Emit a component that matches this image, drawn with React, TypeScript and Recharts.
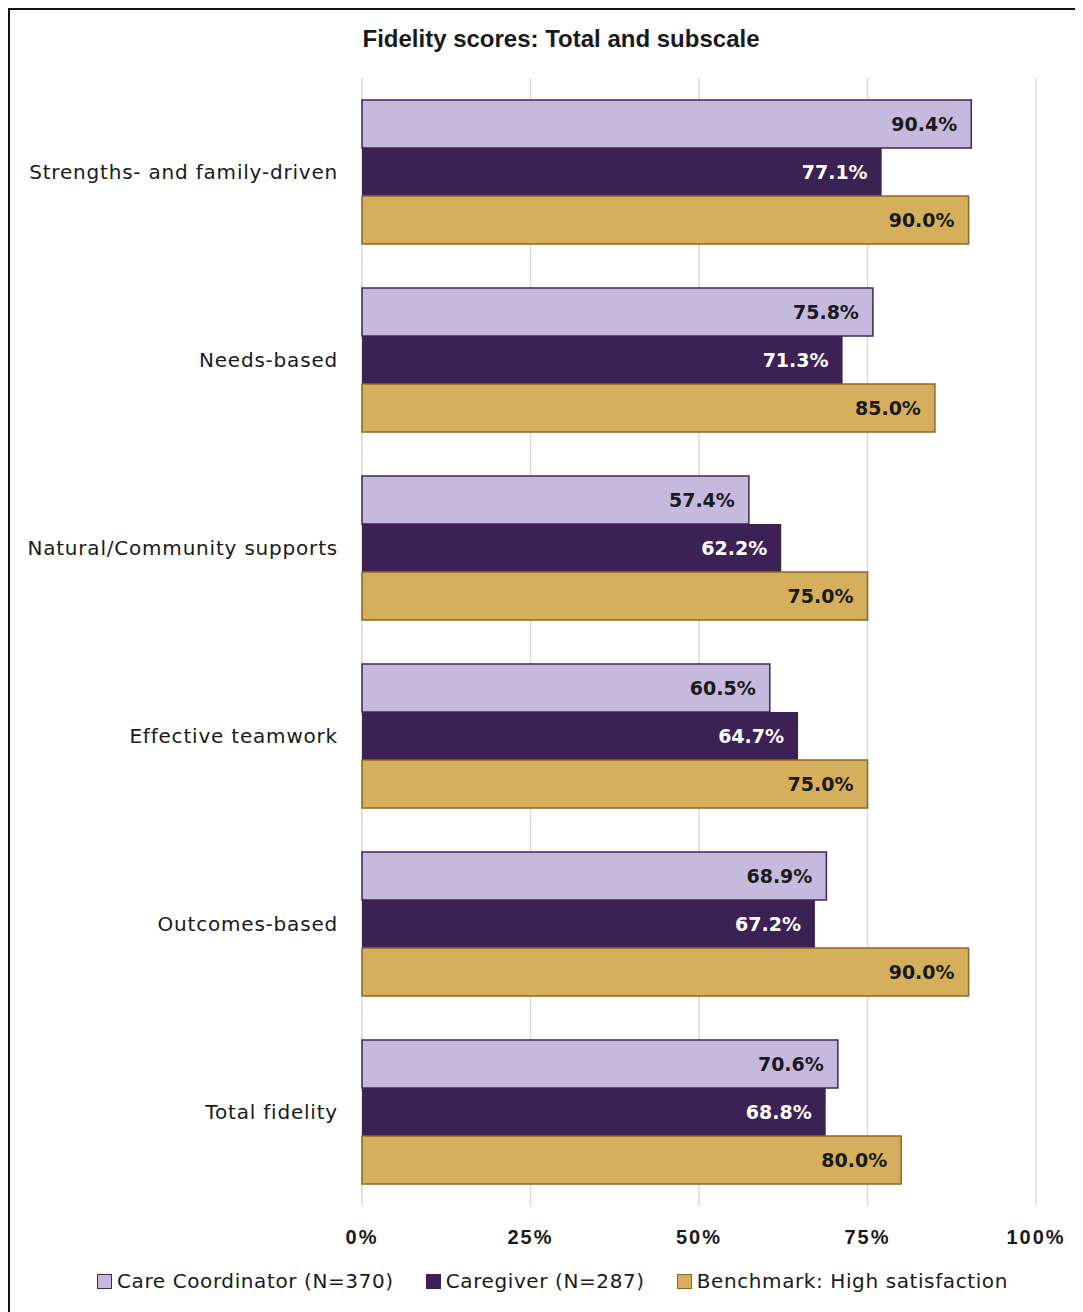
import React from 'react'
import {
    BarChart,
    Bar,
    XAxis,
    YAxis,
    CartesianGrid,
    LabelList
} from 'recharts'

const categories = [
    "Strengths- and family-driven",
    "Needs-based",
    "Natural/Community supports",
    "Effective teamwork",
    "Outcomes-based",
    "Total fidelity"
]

const careCoordinator = [90.4, 75.8, 57.4, 60.5, 68.9, 70.6]
const caregiver = [77.1, 71.3, 62.2, 64.7, 67.2, 68.8]
const benchmark = [90.0, 85.0, 75.0, 75.0, 90.0, 80.0]

const xTicks = [0, 25, 50, 75, 100]

const seriesNames = [
    "Care Coordinator (N=370)",
    "Caregiver (N=287)",
    "Benchmark: High satisfaction"
]

const colors = {
    coord: "#c5b9de",
    coordStroke: "#3f2659",
    giver: "#3c2154",
    bench: "#d5af5b",
    benchStroke: "#8a6a22"
}

const labelFont = "'DejaVu Sans', Verdana, sans-serif"
const narrowFont = "'Liberation Sans', Arial, sans-serif"

const data = categories.map((name, i) => ({
    name,
    coord: careCoordinator[i],
    giver: caregiver[i],
    bench: benchmark[i]
}))

const pct = (v: any) => Number(v).toFixed(1) + '%'

function LegendBox() {
    const items = [
        { label: seriesNames[0], fill: colors.coord, stroke: colors.coordStroke },
        { label: seriesNames[1], fill: colors.giver, stroke: colors.giver },
        { label: seriesNames[2], fill: colors.bench, stroke: colors.benchStroke }
    ]
    return (
        <div style={{
            position: 'absolute', top: 1259, left: 87, display: 'flex', gap: 32,
            fontFamily: labelFont, fontSize: 20, letterSpacing: 0.6, color: '#1a1a1a',
            whiteSpace: 'nowrap', lineHeight: '24px'
        }}>
            {items.map(it => (
                <div key={it.label} style={{ display: 'flex', alignItems: 'center' }}>
                    <span style={{
                        display: 'inline-block', width: 13, height: 13, background: it.fill,
                        border: `1.5px solid ${it.stroke}`, marginRight: 5
                    }} />
                    <span>{it.label}</span>
                </div>
            ))}
        </div>
    )
}

export default function App() {
    return (
        <div style={{
            position: 'relative', width: 1075, height: 1304, boxSizing: 'border-box',
            borderLeft: '2px solid #111', borderTop: '2px solid #111', background: '#fff'
        }}>
            <div style={{
                position: 'absolute', top: 15, left: 0, width: 1102, textAlign: 'center',
                fontFamily: narrowFont, fontWeight: 'bold', fontSize: 24, color: '#1a1a1a'
            }}>
                Fidelity scores: Total and subscale
            </div>
            <BarChart
                width={1073}
                height={1242}
                data={data}
                layout="vertical"
                margin={{ top: 68, right: 47, bottom: 0, left: 0 }}
                barCategoryGap={22}
                barGap={0}
            >
                <CartesianGrid horizontal={false} stroke="#d9d9d9" strokeWidth={1.5} />
                <XAxis
                    type="number"
                    domain={[0, 100]}
                    ticks={xTicks}
                    tickFormatter={(v: number) => v + '%'}
                    axisLine={false}
                    tickLine={false}
                    tickSize={0}
                    tickMargin={24}
                    height={46}
                    tick={{ fill: '#1a1a1a', fontSize: 20, fontWeight: 'bold', fontFamily: narrowFont, letterSpacing: 2 }}
                />
                <YAxis
                    type="category"
                    dataKey="name"
                    width={352}
                    axisLine={false}
                    tickLine={false}
                    tickSize={0}
                    tickMargin={24}
                    tick={{ fill: '#1a1a1a', fontSize: 20, fontFamily: labelFont, letterSpacing: 0.8 }}
                />
                <Bar dataKey="coord" fill={colors.coord} stroke={colors.coordStroke} strokeWidth={1.5} isAnimationActive={false}>
                    <LabelList dataKey="coord" position="insideRight" offset={14} formatter={pct}
                        style={{ fill: '#1a1a1a', fontWeight: 'bold', fontSize: 19, fontFamily: labelFont }} />
                </Bar>
                <Bar dataKey="giver" fill={colors.giver} isAnimationActive={false}>
                    <LabelList dataKey="giver" position="insideRight" offset={14} formatter={pct}
                        style={{ fill: '#ffffff', fontWeight: 'bold', fontSize: 19, fontFamily: labelFont }} />
                </Bar>
                <Bar dataKey="bench" fill={colors.bench} stroke={colors.benchStroke} strokeWidth={1.5} isAnimationActive={false}>
                    <LabelList dataKey="bench" position="insideRight" offset={14} formatter={pct}
                        style={{ fill: '#1a1a1a', fontWeight: 'bold', fontSize: 19, fontFamily: labelFont }} />
                </Bar>
            </BarChart>
            <LegendBox />
        </div>
    )
}
